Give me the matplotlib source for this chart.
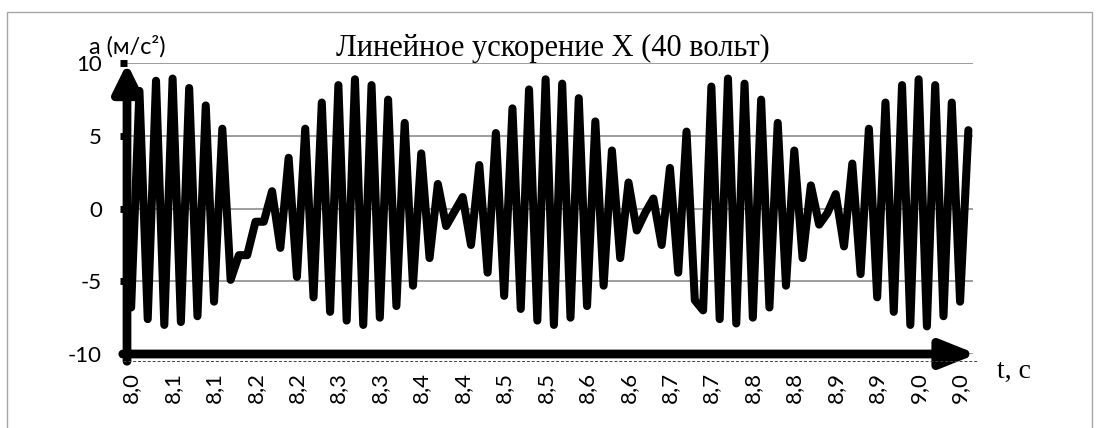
import matplotlib.pyplot as plt
from matplotlib.patches import Rectangle
from matplotlib.lines import Line2D
import numpy as np

plt.rcParams['font.family'] = ['Lato', 'Open Sans', 'DejaVu Sans']

# readings of the X acceleration (m/s^2), one per sample
accel = [
    -6.8, 8.1, -7.6, 8.8, -8.0, 8.95, -7.8, 8.3, -7.4, 7.1,
    -6.4, 5.5, -4.9, -3.2, -3.2, -0.9, -0.9, 1.2, -2.7, 3.5,
    -4.7, 5.5, -6.1, 7.3, -7.1, 8.5, -7.7, 8.9, -8.0, 8.5,
    -7.5, 7.5, -6.7, 5.9, -5.3, 3.8, -3.4, 1.7, -1.2, -0.2,
    0.8, -2.5, 3.0, -4.4, 5.2, -6.0, 6.9, -6.9, 8.2, -7.7,
    8.9, -8.0, 8.6, -7.5, 7.6, -6.7, 6.0, -5.3, 4.0, -3.4,
    1.8, -1.5, -0.3, 0.7, -2.5, 2.8, -4.4, 5.3, -6.3, -7.0,
    8.4, -7.6, 8.95, -7.9, 8.6, -7.5, 7.5, -6.8, 5.9, -5.3,
    4.0, -3.4, 1.6, -1.1, -0.3, 1.0, -2.6, 3.1, -4.5, 5.5,
    -6.1, 7.3, -7.1, 8.5, -8.0, 8.9, -8.1, 8.5, -7.4, 7.3,
    -6.4, 5.4,
]

# category labels shown every 5th sample
time_labels = ['8,0', '8,1', '8,1', '8,2', '8,2', '8,3', '8,3', '8,4', '8,4',
               '8,5', '8,5', '8,6', '8,6', '8,7', '8,7', '8,8', '8,8', '8,9',
               '8,9', '9,0', '9,0']
label_step = 5
y_ticks = [-10, -5, 0, 5, 10]

W, H = 1099, 428
fig = plt.figure(figsize=(W / 100, H / 100), dpi=100)

# outer chart border
fig.patches.append(Rectangle((7 / W, -0.05), (1092 - 7) / W, 1.05 - 12 / H,
                             transform=fig.transFigure, fill=False,
                             edgecolor='#a6a6a6', lw=1.0))

ax = fig.add_axes([127 / W, 1 - 354 / H, (972.5 - 127) / W, (354 - 63.3) / H])
x = np.arange(len(accel))
ax.plot(x, accel, color='black', lw=5.8, solid_joinstyle='round',
        solid_capstyle='round', zorder=3)

ax.set_xlim(-0.5, len(accel) - 0.5)
ax.set_ylim(-10, 10)

ax.set_yticks(y_ticks)
ax.set_yticklabels([str(v) for v in y_ticks])
ax.set_xticks(x[::label_step][:len(time_labels)])
ax.set_xticklabels(time_labels, rotation=90)

ax.tick_params(axis='y', length=5, width=5, pad=13, labelsize=16, color='black')
ax.tick_params(axis='x', length=0, pad=13, labelsize=16)
for lab in ax.get_xticklabels():
    lab.set_verticalalignment('top')

ax.grid(axis='y', color='#8c8c8c', lw=1.2, zorder=0)
ax.set_axisbelow(True)
for s in ax.spines.values():
    s.set_visible(False)

# thick arrowed axes
ax.annotate('', xy=(0, 1.0), xytext=(0, -0.025), xycoords='axes fraction',
            arrowprops=dict(arrowstyle='-|>,head_length=0.85,head_width=0.42',
                            lw=6.3, color='black', shrinkA=0, shrinkB=0,
                            mutation_scale=20), zorder=5)
ax.annotate('', xy=(1.005, 0), xytext=(-0.005, 0), xycoords='axes fraction',
            arrowprops=dict(arrowstyle='-|>,head_length=1.05,head_width=0.42',
                            lw=6.3, color='black', shrinkA=0, shrinkB=0,
                            mutation_scale=20), zorder=5)
fig.lines.append(Line2D([123 / W, 977 / W], [1 - 360.5 / H, 1 - 360.5 / H],
                        transform=fig.transFigure, color='#404040', lw=0.7,
                        ls=(0, (3, 2))))

fig.text(553 / W, 1 - 56 / H, 'Линейное ускорение X (40 вольт)',
         family='Liberation Serif', fontsize=22, ha='center', va='baseline')
fig.text(127 / W, 1 - 54 / H, 'a (м/с²)', fontsize=17, ha='center',
         va='baseline', family=['Lato', 'Open Sans', 'DejaVu Sans'])
fig.text(997 / W, 1 - 378 / H, 't, c', family='Liberation Serif',
         fontsize=20, ha='left', va='baseline')

fig.savefig('out.png', dpi=100)
